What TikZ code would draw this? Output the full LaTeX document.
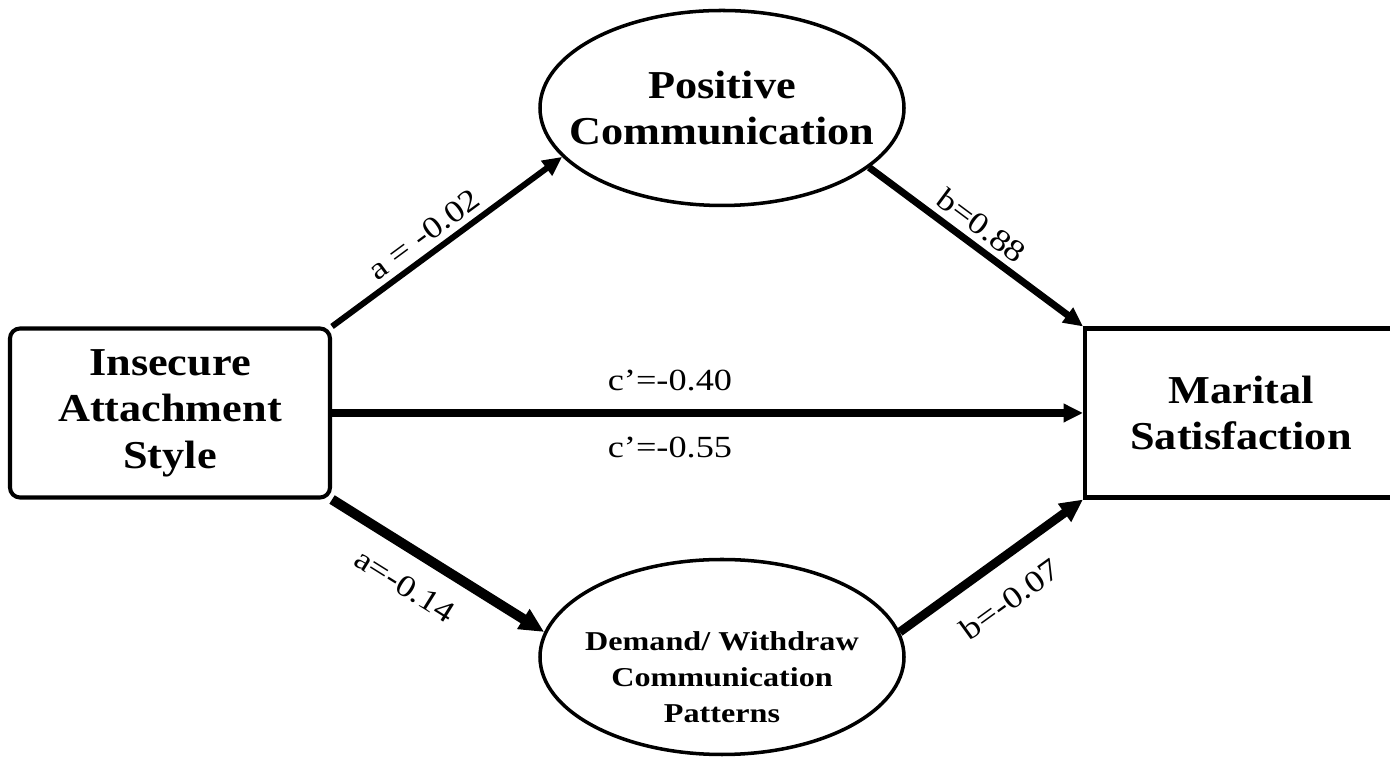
\documentclass[tikz,border=0pt]{standalone}
\usepackage{fontspec}
\setmainfont{Liberation Serif}[FakeStretch=1.12]
\newfontfamily\coeffont{Liberation Serif}[FakeStretch=1.18]
\usetikzlibrary{arrows.meta, shapes.geometric}

\begin{document}
\begin{tikzpicture}[
    varbox/.style={draw, line width=2.3pt, minimum width=6.4cm, minimum height=3.38cm, align=center, font=\bfseries\fontsize{22.5}{26.5}\selectfont},
    medshape/.style={draw, ellipse, line width=2pt, minimum width=7.28cm, minimum height=3.9cm, inner sep=0pt},
    medtext/.style={align=center, font=\bfseries\fontsize{22.5}{26.5}\selectfont},
    effect/.style={-{Triangle[length=11pt,width=10pt]}},
    coef/.style={font=\coeffont\fontsize{17.5}{20}\selectfont, sloped}
]
    \useasboundingbox (0,0) rectangle (27.8,15.16);
    \clip (0,0) rectangle (27.8,15.16);
    % Predictor and outcome
    \node[varbox, rounded corners=0.2cm] (isa) at (3.4,6.9) {Insecure\\Attachment\\Style};
    \node[varbox, minimum width=6.24cm] (ms) at (24.82,6.9) {Marital\\Satisfaction};
    % Mediators
    \node[medshape] (pc) at (14.44,13.0) {};
    \node[medtext] (pctext) at (pc) {Positive\\Communication};
    \node[medshape] (dwc) at (14.44,2.02) {};
    \node[medtext, font=\coeffont\bfseries\fontsize{15.5}{20.5}\selectfont] (dwctext) at ([yshift=-0.4cm]dwc.center) {Demand/ Withdraw\\Communication\\Patterns};
    % Paths through positive communication
    \draw[effect, line width=3.4pt] (isa.north east) -- node[coef, above, pos=0.45] {a = -0.02} (pc.197);
    \draw[effect, line width=4pt] (pc.-22) -- node[coef, above, pos=0.47] {b=0.88} (ms.north west);
    % Direct path
    \draw[effect, line width=4.5pt] (isa.east) -- node[coef, above=0.24cm, pos=0.45] {c’=-0.40} node[coef, below=0.28cm, pos=0.45] {c’=-0.55} (ms.west);
    % Paths through demand/withdraw
    \draw[effect, line width=5.7pt, -{Triangle[length=14pt,width=12.5pt]}] (isa.south east) -- node[coef, below=0.26cm, pos=0.43] {a=-0.14} (dwc.172);
    \draw[effect, line width=5pt, -{Triangle[length=13pt,width=12pt]}] (dwc.8) -- node[coef, below=0.34cm, pos=0.48] {b=-0.07} (ms.south west);
\end{tikzpicture}
\end{document}
